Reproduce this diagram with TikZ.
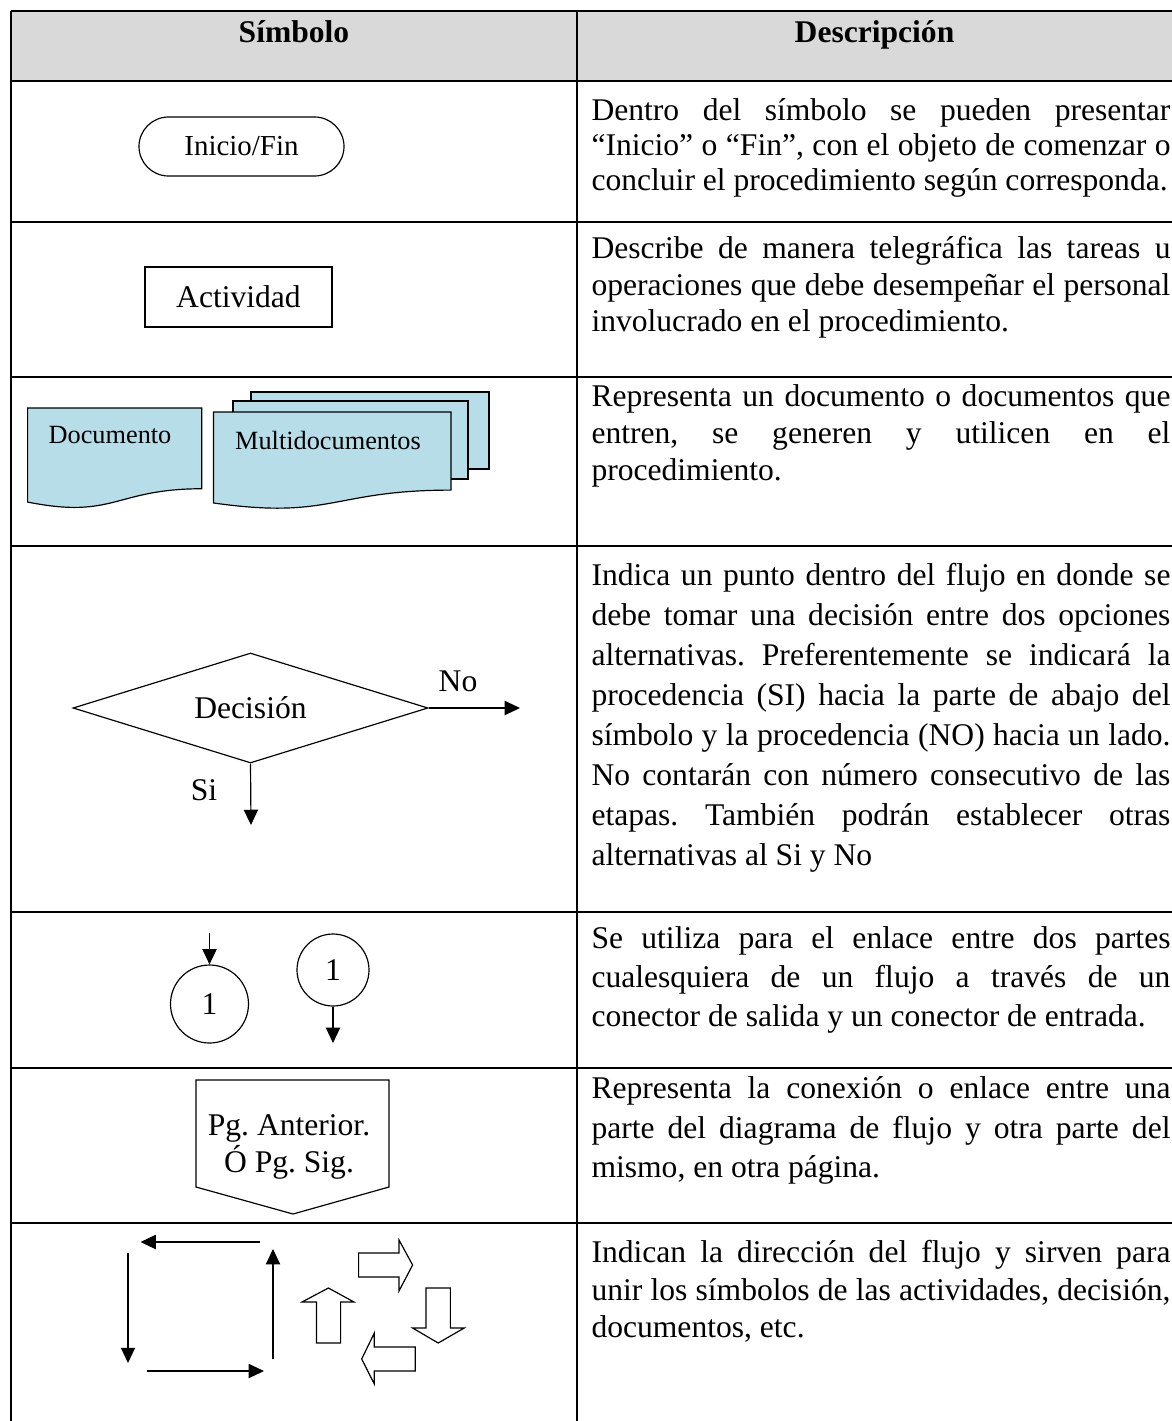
\documentclass[tikz,border=0pt]{standalone}
\usepackage{fontspec}
\setmainfont{Liberation Serif}
\usetikzlibrary{arrows.meta,shapes.geometric,shapes.misc}
\definecolor{headgray}{HTML}{D9D9D9}
\definecolor{docblue}{HTML}{B7DDE8}
\frenchspacing
\def\px{0.38pt}
\newlength\descw
\setlength\descw{220pt}
\newcommand{\jline}[1]{\makebox[\descw][s]{#1}}
\newcommand{\lnstrut}{\rule{0pt}{10pt}}
\newcommand{\docshape}[4]{\draw[docfill] (#1,#2) -- (#1+#3,#2) -- (#1+#3,#2+0.8019*#4) .. controls (#1+0.5*#3,#2+0.8019*#4) and (#1+0.5*#3,#2+1.1075*#4) .. (#1,#2+0.9339*#4) -- cycle;}
\tikzset{
  tabline/.style={line width=0.6pt},
  symline/.style={line width=0.45pt},
  docfill/.style={symline, fill=docblue},
  flowarrow/.style={line width=0.45pt, -{Triangle[length=5.8pt,width=5.4pt]}},
  headtext/.style={anchor=base, inner sep=0pt, font=\bfseries\fontsize{12}{14}\selectfont},
  lbl/.style={inner sep=0pt, font=\fontsize{12}{14}\selectfont},
  terminal/.style={rounded rectangle, draw, symline, minimum width=205*\px, minimum height=59*\px, inner sep=0pt, font=\fontsize{11}{13}\selectfont},
  activity/.style={rectangle, draw, symline, minimum width=187*\px, minimum height=60*\px, inner sep=0pt, font=\fontsize{12}{14}\selectfont},
  doctext/.style={inner sep=0pt, font=\fontsize{10}{12}\selectfont},
  decision/.style={diamond, draw, symline, minimum width=355*\px, minimum height=110*\px, shape aspect=3.2, inner sep=0pt, font=\fontsize{12}{14}\selectfont},
  conn/.style={circle, draw, symline, inner sep=0pt, font=\fontsize{12}{14}\selectfont},
  desc/.style={anchor=north west, yshift=10pt, inner sep=0pt, align=left}
}

\begin{document}
\begin{tikzpicture}[x=\px,y=-\px]
  \useasboundingbox (0,0) rectangle (1172,1421);

  % table frame
  \fill[headgray] (11,11) rectangle (1172,81);
  \draw[tabline] (11,11) -- (1172,11);
  \foreach \yy in {81,222,377,546,912,1068,1223}
    \draw[tabline] (11,\yy) -- (1172,\yy);
  \draw[tabline] (11,11) -- (11,1421);
  \draw[tabline] (577,11) -- (577,1421);

  \node[headtext] (hsym) at (294,43) {Símbolo};
  \node[headtext] (hdsc) at (874.5,43) {Descripción};

  % inicio / actividad
  \node[terminal] (ini) at (241.5,146.5) {Inicio/Fin};
  \node[activity] (act) at (238.5,297) {Actividad};

  % documentos
  \draw[docfill] (251,392) rectangle (489,469);
  \draw[docfill] (233,401) rectangle (468,479);
  \docshape{213.5}{412}{237.5}{97.4}
  \docshape{27.6}{408}{174.1}{100.7}
  \node[doctext] (doc) at (110,435) {Documento};
  \node[doctext] (mdoc) at (328,440) {Multidocumentos};

  % decision
  \node[decision] (dec) at (250.5,708) {Decisión};
  \coordinate (noend) at (520,708);
  \coordinate (siend) at (251,825);
  \draw[flowarrow] (dec.east) -- (noend);
  \draw[flowarrow] (dec.south) -- (siend);
  \node[lbl] (no) at (458,681) {No};
  \node[lbl] (si) at (204,790) {Si};

  % conectores
  \node[conn, minimum size=78*\px] (cin) at (209.5,1004) {1};
  \node[conn, minimum size=72*\px] (cout) at (333,970) {1};
  \coordinate (cinstart) at (209.5,933);
  \coordinate (coutend) at (333,1043);
  \draw[flowarrow] (cinstart) -- (cin.north);
  \draw[flowarrow] (cout.south) -- (coutend);

  % fuera de pagina
  \draw[symline] (196,1080) -- (389,1080) -- (389,1187) -- (293,1214) -- (196,1187) -- cycle;
  \node[lbl, anchor=north, yshift=10pt, align=center, font=\fontsize{12}{12.2}\selectfont] (pg) at (289,1135) {\lnstrut Pg. Anterior.\\Ó Pg. Sig.};

  % flechas
  \coordinate (ftop1) at (260,1242);   \coordinate (ftop2) at (140.5,1242);
  \coordinate (fleft1) at (128,1253);  \coordinate (fleft2) at (128,1363);
  \coordinate (fbot1) at (146.6,1371); \coordinate (fbot2) at (264,1371);
  \coordinate (fright1) at (273,1359); \coordinate (fright2) at (273,1249);
  \draw[flowarrow] (ftop1) -- (ftop2);
  \draw[flowarrow] (fleft1) -- (fleft2);
  \draw[flowarrow] (fbot1) -- (fbot2);
  \draw[flowarrow] (fright1) -- (fright2);

  \draw[symline] (358.6,1253) -- (399,1253) -- (399,1240) -- (412.6,1265) -- (399,1291) -- (399,1277) -- (358.6,1277) -- cycle;
  \draw[symline] (316.5,1343) -- (316.5,1302) -- (302,1302) -- (328.4,1288) -- (354,1302) -- (340.6,1302) -- (340.6,1343) -- cycle;
  \draw[symline] (426,1288) -- (450.4,1288) -- (450.4,1328) -- (464.2,1328) -- (438.2,1343) -- (412.6,1328) -- (426,1328) -- cycle;
  \draw[symline] (415.2,1347) -- (415.2,1371) -- (374.3,1371) -- (374.3,1384) -- (361.7,1359) -- (374.3,1333) -- (374.3,1347) -- cycle;

  % descripciones
  \node[desc, font={\fontsize{12}{13.3}\selectfont}] (dsc1) at (591,120) {\lnstrut\jline{Dentro del símbolo se pueden presentar}\\\jline{“Inicio” o “Fin”, con el objeto de comenzar o}\\concluir el procedimiento según corresponda.};
  \node[desc, font={\fontsize{12}{13.9}\selectfont}] (dsc2) at (591,258) {\lnstrut\jline{Describe de manera telegráfica las tareas u}\\\jline{operaciones que debe desempeñar el personal}\\involucrado en el procedimiento.};
  \node[desc, font={\fontsize{12}{14.06}\selectfont}] (dsc3) at (591,406) {\lnstrut\jline{Representa un documento o documentos que}\\\jline{entren, se generen y utilicen en el}\\procedimiento.};
  \node[desc, font={\fontsize{12}{15.2}\selectfont}] (dsc4) at (591,585) {\lnstrut\jline{Indica un punto dentro del flujo en donde se}\\\jline{debe tomar una decisión entre dos opciones}\\\jline{alternativas. Preferentemente se indicará la}\\\jline{procedencia (SI) hacia la parte de abajo del}\\\jline{símbolo y la procedencia (NO) hacia un lado.}\\\jline{No contarán con número consecutivo de las}\\\jline{etapas. También podrán establecer otras}\\alternativas al Si y No};
  \node[desc, font={\fontsize{12}{14.82}\selectfont}] (dsc5) at (591,948) {\lnstrut\jline{Se utiliza para el enlace entre dos partes}\\\jline{cualesquiera de un flujo a través de un}\\conector de salida y un conector de entrada.};
  \node[desc, font={\fontsize{12}{15}\selectfont}] (dsc6) at (591,1098) {\lnstrut\jline{Representa la conexión o enlace entre una}\\\jline{parte del diagrama de flujo y otra parte del}\\mismo, en otra página.};
  \node[desc, font={\fontsize{12}{14.25}\selectfont}] (dsc7) at (591,1262) {\lnstrut\jline{Indican la dirección del flujo y sirven para}\\\jline{unir los símbolos de las actividades, decisión,}\\documentos, etc.};
\end{tikzpicture}
\end{document}
